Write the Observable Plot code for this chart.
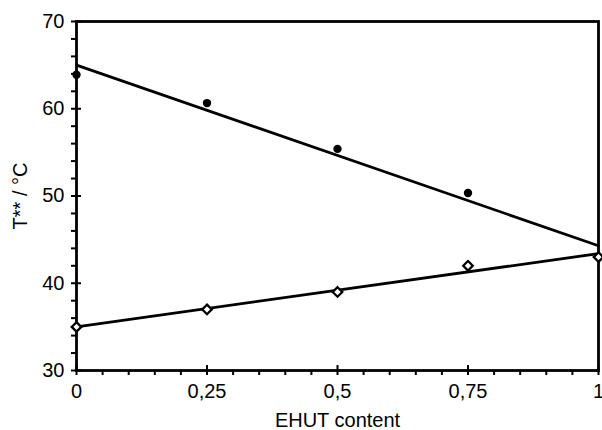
<!DOCTYPE html>
<html>
<head>
<meta charset="utf-8">
<script src="https://cdn.jsdelivr.net/npm/d3@7"></script>
<script src="https://cdn.jsdelivr.net/npm/@observablehq/plot@0.6"></script>
<style>
  html, body { margin: 0; padding: 0; background: #fff; }
  #chart svg { display: block; }
</style>
</head>
<body>
<div id="chart"></div>
<script>
// EHUT content (mass fraction)
const content = [0, 0.25, 0.5, 0.75, 1];
// Measured T** values: filled circles and open diamonds
const tFilled = [63.9, 60.65, 55.4, 50.35];
const tOpen = [35.0, 37.0, 39.0, 42.0, 43.0];
// Linear fits, evaluated at both ends of the content range
const fitX = [0, 1];
const fitFilled = [65.0, 44.3];
const fitOpen = [35.0, 43.4];
// Axis ticks
const xMajor = [0, 0.25, 0.5, 0.75, 1];
const xMinor = d3.range(0, 1.0001, 0.05).map(v => +v.toFixed(2)).filter(v => !xMajor.includes(v));
const yMajor = [30, 40, 50, 60, 70];
const yMinor = d3.range(30, 71, 2).filter(v => !yMajor.includes(v));

const filled = tFilled.map((t, i) => ({x: content[i], t}));
const open = tOpen.map((t, i) => ({x: content[i], t}));
const fits = [
  ...fitX.map((x, i) => ({x, t: fitFilled[i], s: "filled"})),
  ...fitX.map((x, i) => ({x, t: fitOpen[i], s: "open"}))
];

const comma = d => String(d).replace(".", ",");
const ink = "#000";
const sw = 2.8;
const fs = 20;

const chart = Plot.plot({
  width: 602,
  height: 430,
  marginLeft: 76,
  marginRight: 4,
  marginTop: 21,
  marginBottom: 60,
  style: {fontFamily: "'Liberation Sans', Arial, sans-serif", fontSize: "20px", color: ink, background: "#fff"},
  x: {domain: [0, 1]},
  y: {domain: [30, 70]},
  marks: [
    Plot.frame({stroke: ink, strokeWidth: sw}),
    // minor ticks, outward
    Plot.axisX(xMinor, {tickSize: 5, text: null, strokeWidth: 2, label: null}),
    Plot.axisY(yMinor, {tickSize: 5, text: null, strokeWidth: 2, label: null}),
    // major ticks crossing the axis line
    Plot.axisX(xMajor, {tickSize: -5, text: null, strokeWidth: 2, label: null}),
    Plot.axisY(yMajor, {tickSize: -5, text: null, strokeWidth: 2, label: null}),
    Plot.axisX(xMajor, {
      tickSize: 5, tickPadding: 8, strokeWidth: 2, tickFormat: comma, fontSize: fs,
      label: "EHUT content", labelAnchor: "center", labelArrow: "none", labelOffset: 56
    }),
    Plot.axisY(yMajor, {
      tickSize: 5, tickPadding: 7, strokeWidth: 2, fontSize: fs,
      label: "T** / °C", labelAnchor: "center", labelArrow: "none", labelOffset: 64
    }),
    Plot.line(fits, {x: "x", y: "t", z: "s", stroke: ink, strokeWidth: sw}),
    Plot.dot(filled, {x: "x", y: "t", r: 4.2, fill: ink, stroke: "none"}),
    Plot.dot(open, {x: "x", y: "t", symbol: "diamond2", r: 4.3, fill: "#fff", stroke: ink, strokeWidth: 2.3})
  ]
});
document.getElementById("chart").append(chart);
</script>
</body>
</html>
